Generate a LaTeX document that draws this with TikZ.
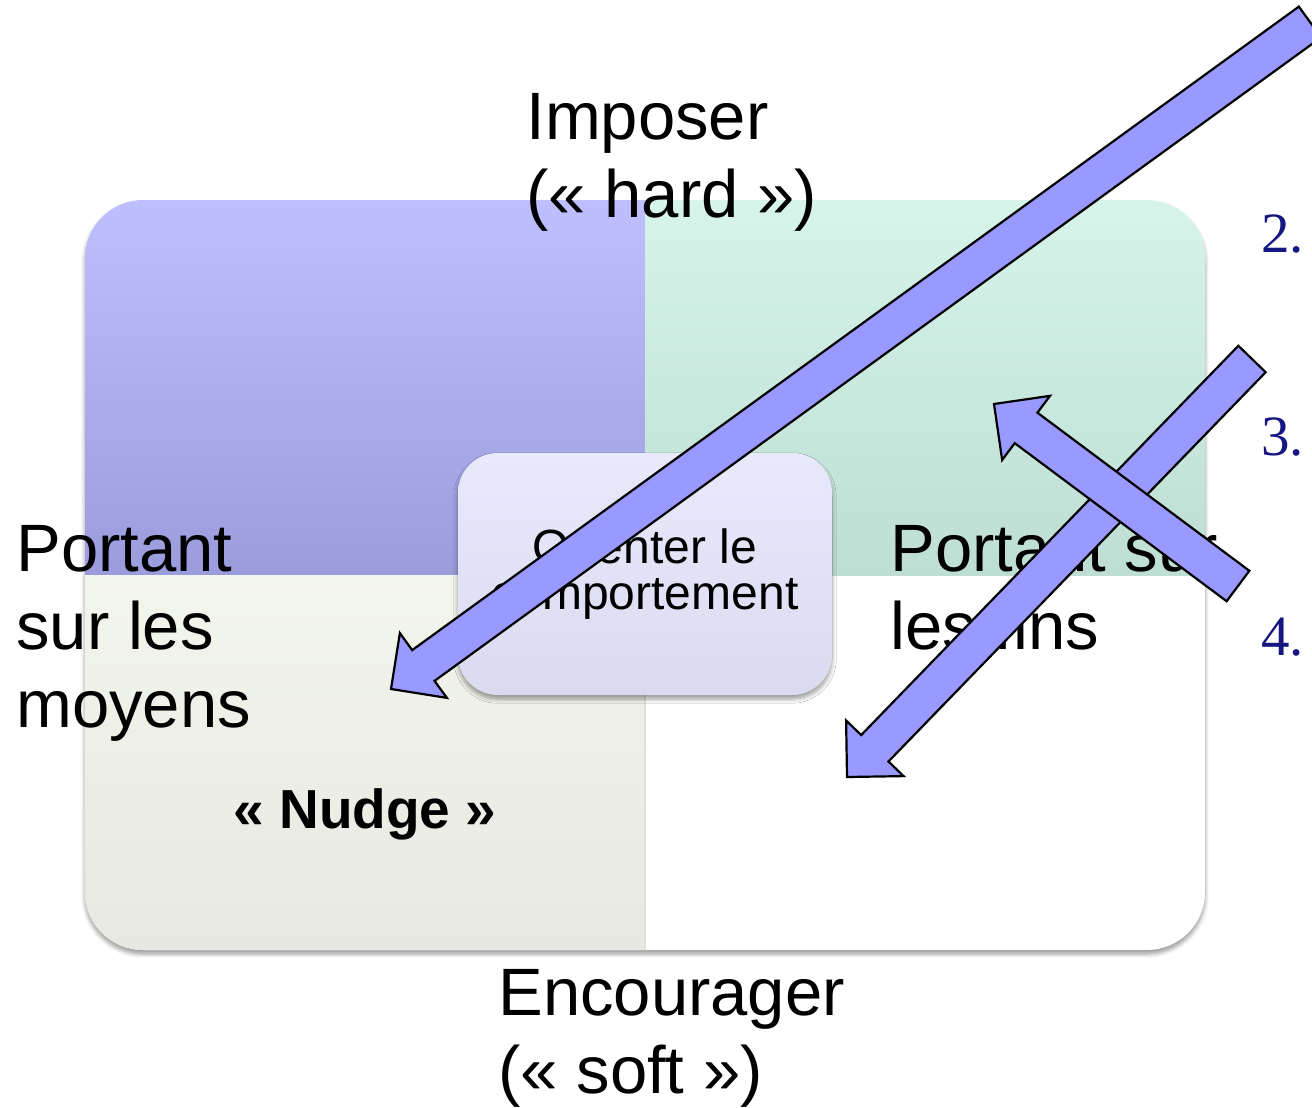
\documentclass[tikz,border=0pt]{standalone}
\usepackage{fontspec}
\setmainfont{Liberation Sans}
\newfontfamily\numfont{Liberation Serif}
\usetikzlibrary{calc}
\usetikzlibrary{shadows,shadows.blur}

\definecolor{tltop}{RGB}{189,191,255}
\definecolor{tlbot}{RGB}{154,156,220}
\definecolor{trtop}{RGB}{214,244,234}
\definecolor{trbot}{RGB}{190,222,211}
\definecolor{bltop}{RGB}{243,246,237}
\definecolor{blbot}{RGB}{231,232,225}
\definecolor{boxtop}{RGB}{233,233,252}
\definecolor{boxbot}{RGB}{219,219,240}
\definecolor{arrowblue}{RGB}{153,153,255}
\definecolor{numblue}{RGB}{22,22,130}

\tikzset{
  bigtext/.style={inner sep=0pt, anchor=base west, align=left, font=\fontsize{33.5}{39}\selectfont},
  numtext/.style={inner sep=0pt, anchor=base west, text=numblue, font=\numfont\fontsize{28.5}{33}\selectfont},
  blockarrow/.style={fill=arrowblue, draw=black, line width=1.1pt, line join=miter},
}

% block arrow from tail #1 to tip #2
\newcommand\bigarrow[2]{%
  \coordinate (#1h) at ($(#2)!20pt!(#1)$);
  \draw[blockarrow] ($(#1)!9.5pt!90:(#2)$) -- ($(#1h)!9.5pt!-90:(#1)$)
    -- ($(#1h)!20pt!-90:(#1)$) -- (#2) -- ($(#1h)!20pt!90:(#1)$)
    -- ($(#1h)!9.5pt!90:(#1)$) -- ($(#1)!9.5pt!-90:(#2)$) -- cycle;
}

\begin{document}
\begin{tikzpicture}[x=0.5pt,y=-0.5pt]
    \useasboundingbox (0,0) rectangle (1312,1108);
    % the four quadrants
    \fill[white, rounded corners=29pt, blur shadow={shadow xshift=0pt, shadow yshift=-2pt, shadow blur steps=6}] (85,200) rectangle (1205,950);
    \begin{scope}
        \clip[rounded corners=29pt] (85,200) rectangle (1205,950);
        \shade[top color=tltop, bottom color=tlbot] (85,200) rectangle (645,575);
        \shade[top color=trtop, bottom color=trbot] (645,200) rectangle (1205,575);
        \shade[top color=bltop, bottom color=blbot] (85,575) rectangle (645,950);
        \draw[black!12, line width=0.6pt] (645,575) -- (645,950);
    \end{scope}
    \node[rounded corners=20pt, minimum width=187pt, minimum height=121pt, top color=boxtop, bottom color=boxbot,
        blur shadow={shadow xshift=0pt, shadow yshift=-2pt, shadow blur steps=6},
        align=center, font=\fontsize{24}{23}\selectfont] (orienter) at (645,574) {Orienter le\\comportement};

    % multi-line labels sit on their last baseline
    \node[bigtext] (imposer) at (526,217) {Imposer\\(« hard »)};
    \node[bigtext] (encourager) at (498,1093) {Encourager\\(« soft »)};
    \node[bigtext] (moyens) at (16,727) {Portant\\sur les\\moyens};
    \node[bigtext] (fins) at (890,649) {Portant sur\\les fins};
    \node[inner sep=0pt, anchor=base, font=\bfseries\fontsize{27.5}{30}\selectfont] (nudge) at (365,828) {« Nudge »};

    \node[numtext] (n2) at (1261,252) {2.};
    \node[numtext] (n3) at (1261,455) {3.};
    \node[numtext] (n4) at (1261,655) {4.};

    % arrows
    \coordinate (a1) at (1310,22);  \coordinate (b1) at (391,689);
    \coordinate (a2) at (1252,359); \coordinate (b2) at (847,777);
    \coordinate (a3) at (1238,586); \coordinate (b3) at (994,404);
    \bigarrow{a1}{b1}
    \bigarrow{a2}{b2}
    \bigarrow{a3}{b3}
\end{tikzpicture}
\end{document}
